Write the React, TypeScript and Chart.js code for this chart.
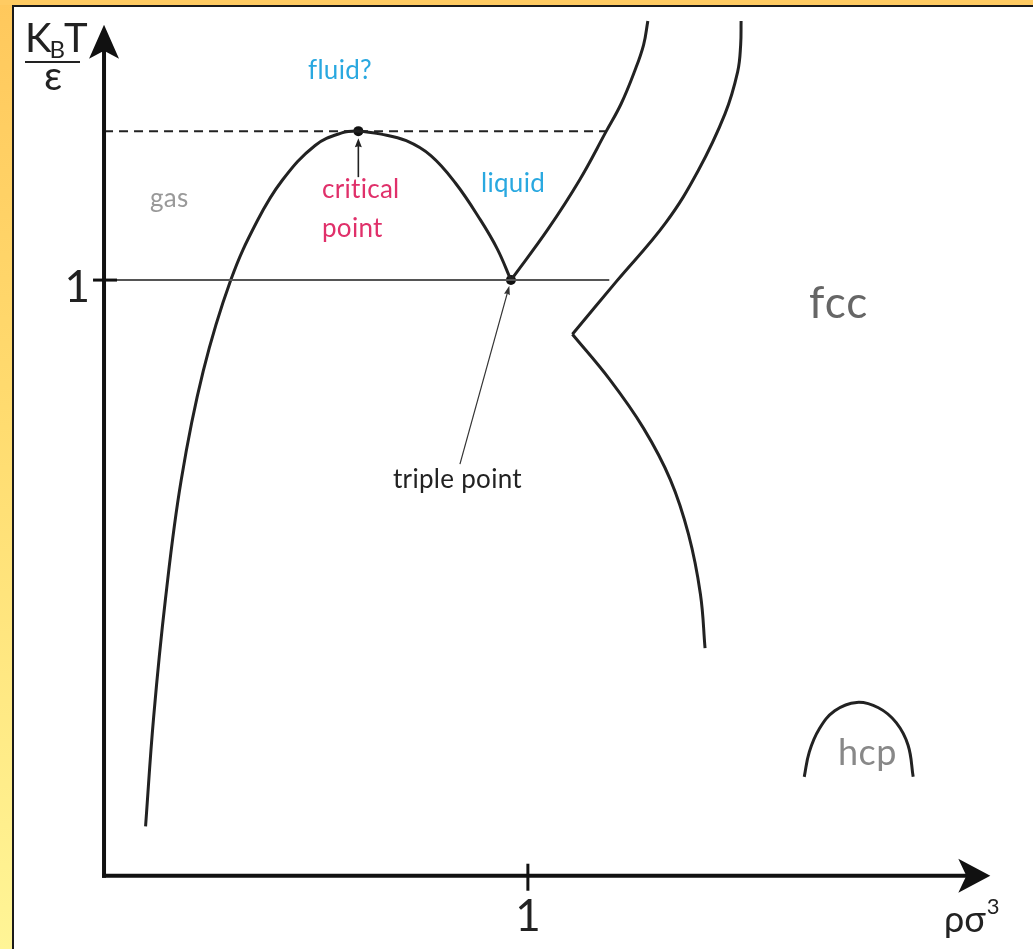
import { useEffect, useRef } from "react";
import { Chart, registerables } from "chart.js";

Chart.register(...registerables);

// Reduced density ρσ³ and reduced temperature k_BT/ε along each phase boundary.

// Gas–liquid coexistence dome, from the low-density branch over the critical point to the triple point
const domeRho = [0.098, 0.117, 0.145, 0.182, 0.234, 0.299, 0.362, 0.421, 0.498, 0.561, 0.6, 0.654, 0.713, 0.771, 0.829, 0.888, 0.928, 0.96];
const domeT = [0.083, 0.266, 0.465, 0.664, 0.847, 1.0, 1.1, 1.168, 1.226, 1.247, 1.25, 1.245, 1.234, 1.209, 1.163, 1.101, 1.052, 1.0];

// Liquid side of the melting line, rising from the triple point
const meltRho = [0.96, 1.047, 1.122, 1.185, 1.22, 1.252, 1.273, 1.283];
const meltT = [1.0, 1.085, 1.168, 1.25, 1.296, 1.351, 1.395, 1.435];

// fcc side of the coexistence region, above the kink
const fccUpperRho = [1.105, 1.208, 1.325, 1.402, 1.465, 1.495, 1.502, 1.503];
const fccUpperT = [0.909, 0.997, 1.096, 1.184, 1.279, 1.35, 1.395, 1.435];

// Boundary running down from the kink
const fccLowerRho = [1.105, 1.192, 1.273, 1.336, 1.379, 1.407, 1.418];
const fccLowerT = [0.909, 0.834, 0.751, 0.665, 0.573, 0.473, 0.382];

// Small hcp pocket at high density
const hcpRho = [1.652, 1.664, 1.687, 1.724, 1.776, 1.827, 1.869, 1.897, 1.909];
const hcpT = [0.166, 0.208, 0.246, 0.277, 0.291, 0.282, 0.257, 0.219, 0.166];

// Special points
const criticalPoint = { rho: 0.6, T: 1.25 };
const triplePoint = { rho: 0.96, T: 1.0 };

// Isotherms through the critical and triple points
const criticalIsothermRho = [0, 1.185];
const tripleIsothermRho = [0, 1.192];

// Tick values shown on the axes
const xTicks = [1];
const yTicks = [1];

// Visible window in data units
const X_MIN = -0.23364;
const X_MAX = 2.17991;
const Y_MIN = -0.11462;
const Y_MAX = 1.46179;
const X_TIP = 2.091;
const Y_TIP = 1.4286;

const FONT = `Lato, "Open Sans", "DejaVu Sans", sans-serif`;

const pts = (xs: number[], ys: number[]) => xs.map((x, i) => ({ x, y: ys[i] }));
const flat = (xs: number[], y: number) => xs.map((x) => ({ x, y }));

function arrowHead(
  ctx: CanvasRenderingContext2D,
  tx: number,
  ty: number,
  dx: number,
  dy: number,
  len: number,
  half: number,
  notch: number
) {
  const px = -dy;
  const py = dx;
  const bx = tx - dx * len;
  const by = ty - dy * len;
  const nx = tx - dx * (len - notch);
  const ny = ty - dy * (len - notch);
  ctx.beginPath();
  ctx.moveTo(tx, ty);
  ctx.lineTo(bx + px * half, by + py * half);
  ctx.lineTo(nx, ny);
  ctx.lineTo(bx - px * half, by - py * half);
  ctx.closePath();
  ctx.fill();
}

const phasePlugin = {
  id: "phaseDiagramDecor",
  afterDatasetsDraw(chart: any) {
    const ctx: any = chart.ctx;
    const xs = chart.scales.x;
    const ys = chart.scales.y;
    const X = (v: number) => xs.getPixelForValue(v);
    const Y = (v: number) => ys.getPixelForValue(v);
    const ox = X(0);
    const oy = Y(0);

    ctx.save();
    ctx.fillStyle = "#111";
    ctx.strokeStyle = "#111";

    // axes
    ctx.lineWidth = 4;
    ctx.beginPath();
    ctx.moveTo(ox, oy + 2);
    ctx.lineTo(ox, Y(Y_TIP) + 20);
    ctx.stroke();
    ctx.beginPath();
    ctx.moveTo(ox - 2, oy);
    ctx.lineTo(X(X_TIP) - 20, oy);
    ctx.stroke();
    arrowHead(ctx, ox, Y(Y_TIP), 0, -1, 34, 15, 8);
    arrowHead(ctx, X(X_TIP), oy, 1, 0, 32, 17, 8);

    // tick marks
    ctx.lineWidth = 3;
    xTicks.forEach((t) => {
      ctx.beginPath();
      ctx.moveTo(X(t), oy - 12);
      ctx.lineTo(X(t), oy + 15);
      ctx.stroke();
    });
    yTicks.forEach((t) => {
      ctx.beginPath();
      ctx.moveTo(ox - 11, Y(t));
      ctx.lineTo(ox + 13, Y(t));
      ctx.stroke();
    });

    // tick labels
    ctx.fillStyle = "#222";
    ctx.font = `44px ${FONT}`;
    ctx.textBaseline = "alphabetic";
    ctx.textAlign = "center";
    xTicks.forEach((t) => ctx.fillText(String(t), X(t), oy + 55));
    ctx.textAlign = "right";
    yTicks.forEach((t) => ctx.fillText(String(t), ox - 14, Y(t) + 22));

    // axis titles
    ctx.textAlign = "left";
    ctx.font = `40px ${FONT}`;
    ctx.fillText("K", 25, 52);
    const kw = ctx.measureText("K").width;
    ctx.font = `24px ${FONT}`;
    ctx.fillText("B", 25 + kw - 2, 58);
    const bw = ctx.measureText("B").width;
    ctx.font = `40px ${FONT}`;
    ctx.fillText("T", 25 + kw + bw - 3, 52);
    ctx.fillRect(25, 61, 55, 2);
    ctx.textAlign = "center";
    ctx.fillText("ε", 53, 90);

    ctx.textAlign = "left";
    ctx.font = `36px ${FONT}`;
    ctx.fillText("ρσ", 944, 932);
    const rw = ctx.measureText("ρσ").width;
    ctx.font = `22px ${FONT}`;
    ctx.fillText("3", 944 + rw + 1, 914);

    // pointer to the critical point
    const cx = X(criticalPoint.rho);
    const cy = Y(criticalPoint.T);
    ctx.fillStyle = "#222";
    ctx.strokeStyle = "#222";
    ctx.lineWidth = 1.6;
    ctx.beginPath();
    ctx.moveTo(cx, cy + 46);
    ctx.lineTo(cx, cy + 14);
    ctx.stroke();
    arrowHead(ctx, cx, cy + 7, 0, -1, 9, 3.5, 1);

    // pointer to the triple point
    const tx = X(triplePoint.rho);
    const ty = Y(triplePoint.T);
    const sx = tx - 51;
    const sy = ty + 184;
    const len = Math.hypot(tx - sx, ty - sy);
    const ux = (tx - sx) / len;
    const uy = (ty - sy) / len;
    ctx.strokeStyle = "#333";
    ctx.fillStyle = "#333";
    ctx.lineWidth = 1.2;
    ctx.beginPath();
    ctx.moveTo(sx, sy);
    ctx.lineTo(tx - ux * 12, ty - uy * 12);
    ctx.stroke();
    arrowHead(ctx, tx - ux * 6, ty - uy * 6, ux, uy, 9, 3, 1);

    // region and point labels
    ctx.textAlign = "left";
    ctx.letterSpacing = "0.3px";
    ctx.font = `26px ${FONT}`;
    ctx.fillStyle = "#29a8e0";
    ctx.fillText("fluid?", 308, 79);
    ctx.fillText("liquid", 481, 192);
    ctx.fillStyle = "#e0306a";
    ctx.fillText("critical", 322, 198);
    ctx.fillText("point", 322, 237);
    ctx.fillStyle = "#999";
    ctx.fillText("gas", 150, 207);
    ctx.fillStyle = "#222";
    ctx.fillText("triple point", 393, 488);
    ctx.fillStyle = "#666";
    ctx.letterSpacing = "1px";
    ctx.font = `44px ${FONT}`;
    ctx.fillText("fcc", 809, 318);
    ctx.fillStyle = "#888";
    ctx.letterSpacing = "0.5px";
    ctx.font = `36px ${FONT}`;
    ctx.fillText("hcp", 838, 765);
    ctx.letterSpacing = "0px";

    ctx.restore();
  },
};

export default function App() {
  const canvasRef = useRef<HTMLCanvasElement | null>(null);

  useEffect(() => {
    const canvas = canvasRef.current;
    if (!canvas) return;

    const curve = (data: { x: number; y: number }[]) => ({
      data,
      borderColor: "#222",
      borderWidth: 3,
      pointRadius: 0,
      fill: false,
      tension: 0.4,
      clip: false as const,
    });

    const chart = new Chart(canvas, {
      type: "line",
      data: {
        datasets: [
          {
            data: flat(criticalIsothermRho, criticalPoint.T),
            borderColor: "#222",
            borderWidth: 2,
            borderDash: [9, 6],
            pointRadius: 0,
            fill: false,
            clip: false,
          },
          {
            data: flat(tripleIsothermRho, triplePoint.T),
            borderColor: "#555",
            borderWidth: 2,
            pointRadius: 0,
            fill: false,
            clip: false,
          },
          curve(pts(domeRho, domeT)),
          curve(pts(meltRho, meltT)),
          curve(pts(fccUpperRho, fccUpperT)),
          curve(pts(fccLowerRho, fccLowerT)),
          curve(pts(hcpRho, hcpT)),
          {
            data: [
              { x: criticalPoint.rho, y: criticalPoint.T },
              { x: triplePoint.rho, y: triplePoint.T },
            ],
            showLine: false,
            pointRadius: 5,
            pointBackgroundColor: "#111",
            pointBorderColor: "#111",
            pointBorderWidth: 0,
            clip: false,
          },
        ] as any,
      },
      options: {
        responsive: false,
        maintainAspectRatio: false,
        animation: false,
        events: [],
        layout: { padding: 0 },
        plugins: {
          legend: { display: false },
          tooltip: { enabled: false },
        },
        scales: {
          x: { type: "linear", min: X_MIN, max: X_MAX, display: false },
          y: { type: "linear", min: Y_MIN, max: Y_MAX, display: false },
        },
      },
      plugins: [phasePlugin],
    });

    return () => chart.destroy();
  }, []);

  return (
    <div
      style={{
        position: "fixed",
        left: 0,
        top: 0,
        width: 1033,
        height: 949,
        background: "#fff",
        overflow: "hidden",
      }}
    >
      <canvas
        ref={canvasRef}
        width={1033}
        height={949}
        style={{ position: "absolute", left: 0, top: 0, width: 1033, height: 949 }}
      />
      <div
        style={{
          position: "absolute",
          left: 0,
          top: 0,
          width: 12,
          height: 949,
          background: "linear-gradient(#ffc85c, #ffdc70 45%, #fff596)",
        }}
      />
      <div
        style={{
          position: "absolute",
          left: 0,
          top: 0,
          width: 1033,
          height: 5,
          background: "#ffcb62",
        }}
      />
      <div
        style={{ position: "absolute", left: 12, top: 5, width: 2, height: 944, background: "#1a1a1a" }}
      />
      <div
        style={{ position: "absolute", left: 12, top: 5, width: 1021, height: 2, background: "#1a1a1a" }}
      />
    </div>
  );
}
